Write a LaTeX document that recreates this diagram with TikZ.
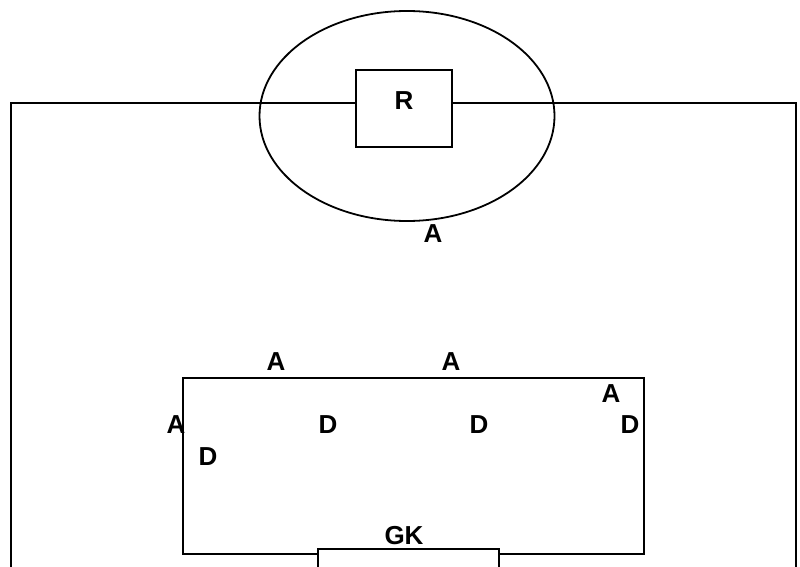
\documentclass[tikz,border=0pt]{standalone}
\usetikzlibrary{shapes.geometric}
\usepackage{fontspec}
\setmainfont{Liberation Sans}
\begin{document}
\begin{tikzpicture}[x=1pt,y=-1pt,
  line/.style={draw=black,line width=1.8pt},
  lab/.style={font=\fontsize{26}{30}\selectfont\bfseries,inner sep=0pt,anchor=center}]
\useasboundingbox (0,0) rectangle (800,567);
\fill[white] (0,0) rectangle (800,567);
\clip (0,0) rectangle (800,567);
\node[line,ellipse,minimum width=295pt,minimum height=210pt,inner sep=0pt] (ell) at (407,116) {};
\node[line,rectangle,minimum width=96pt,minimum height=77pt,inner sep=0pt,fill=white] (r) at (404,108.5) {};
\coordinate (tl) at (10.6,102.9);
\coordinate (tr) at (796.2,102.9);
\draw[line,line width=2pt] (10.6,570) -- (tl) -- (r.west |- tl);
\draw[line,line width=2pt] (r.east |- tr) -- (tr) -- (796.2,570);
\node[lab] (rl) at (404,101) {R};
\draw[line] (183,378) rectangle (644,554);
\draw[line,fill=white] (318,570) -- (318,549) -- (499,549) -- (499,570);
\node[lab] (a1) at (433,234) {A};
\node[lab] (a2) at (276,362) {A};
\node[lab] (a3) at (451,362) {A};
\node[lab] (a4) at (611,394) {A};
\node[lab] (a5) at (176,425) {A};
\node[lab] (d1) at (328,425) {D};
\node[lab] (d2) at (479,425) {D};
\node[lab] (d3) at (630,425) {D};
\node[lab] (d4) at (208,457) {D};
\node[lab] (gk) at (404,536) {GK};
\end{tikzpicture}
\end{document}
